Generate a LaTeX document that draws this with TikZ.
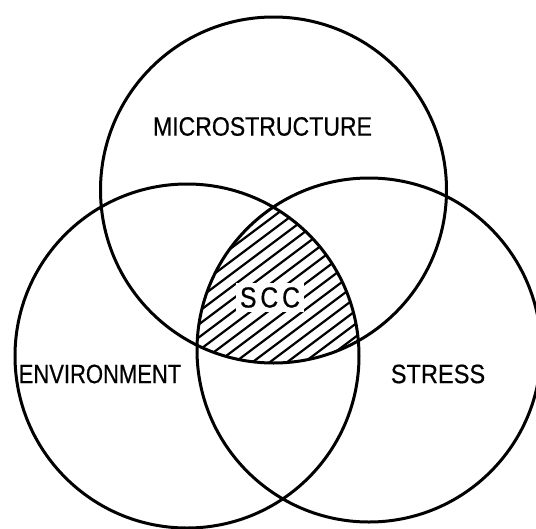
\documentclass[tikz,border=0pt]{standalone}
\usepackage{fontspec}
\setmainfont{Liberation Sans}
\newfontfamily\labelfont{Liberation Sans}[FakeBold=0.6]
\newfontfamily\sccfont{Liberation Sans}[LetterSpace=16,FakeBold=0.6]
\begin{document}
\begin{tikzpicture}[x=1pt,y=-1pt,
  ring/.style={draw=black,line width=3pt},
  hatch/.style={draw=black,line width=2.2pt},
  label/.style={inner sep=0pt,font=\fontsize{26.5}{28}\labelfont},
]
\useasboundingbox (0,0) rectangle (536,528);
% hatched common region of the three circles
\begin{scope}
  \clip (273.5,190) circle (173);
  \clip (187,356) circle (172);
  \clip (369,350) circle (172);
  \foreach \c in {340,353,...,690}
    \draw[hatch] (170,{\c-124}) -- (390,{\c-289});
\end{scope}
\node[fill=white,inner sep=4pt,font=\fontsize{29}{30}\sccfont] (scc) at (270,297.5) {\scalebox{0.85}[1]{SCC}};
% the three circles
\draw[ring] (273.5,190) circle (173);
\draw[ring] (187,356) circle (172);
\draw[ring] (369,350) circle (172);
% labels
\node[label] (micro) at (262.5,126.5) {\scalebox{0.87}[1]{MICROSTRUCTURE}};
\node[label] (env) at (100,374) {\scalebox{0.83}[1]{ENVIRONMENT}};
\node[label] (stress) at (438,374) {\scalebox{0.89}[1]{STRESS}};
\end{tikzpicture}
\end{document}
